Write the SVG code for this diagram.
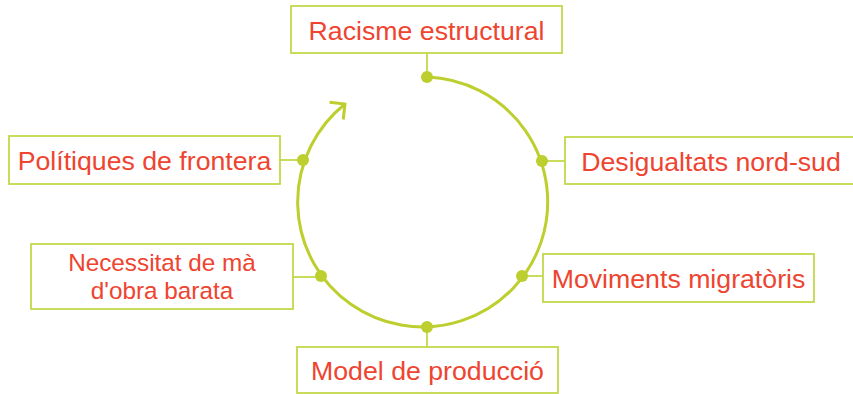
<svg xmlns="http://www.w3.org/2000/svg" width="853" height="394" viewBox="0 0 853 394">
<defs>
<style>
.box{fill:#fff;stroke:#c4d84a;stroke-width:1.8}
.lbl{font-family:"Liberation Sans",Arial,sans-serif;font-size:26.7px;fill:#ee4430;text-anchor:middle}
.lbl2{font-size:24.3px}
.ln{stroke:#c4d84a;stroke-width:1.8;fill:none}
.dot{fill:#bccf2e}
.cyc{stroke:#bccf2e;stroke-width:3;fill:none}
</style>
<marker id="chev" viewBox="-14 -14 16 28" markerWidth="16" markerHeight="28" refX="0" refY="0" orient="auto" markerUnits="userSpaceOnUse">
<path d="M-11,-11 L0,0 L-11,11" fill="none" stroke="#bccf2e" stroke-width="3"/>
</marker>
</defs>
<g id="connectors">
<path class="cyc" d="M427,77 A125,125 0 1 1 345,104" marker-end="url(#chev)"/>
<line class="ln" x1="427" y1="53" x2="427" y2="77"/>
<line class="ln" x1="542" y1="161" x2="565" y2="161"/>
<line class="ln" x1="522" y1="276" x2="543" y2="276"/>
<line class="ln" x1="427" y1="327" x2="427" y2="347"/>
<line class="ln" x1="293" y1="277" x2="321" y2="277"/>
<line class="ln" x1="280" y1="160" x2="303" y2="160"/>
<circle class="dot" cx="427" cy="77" r="6"/>
<circle class="dot" cx="542" cy="161" r="6"/>
<circle class="dot" cx="522" cy="276" r="6"/>
<circle class="dot" cx="427" cy="327" r="6"/>
<circle class="dot" cx="321" cy="276" r="6"/>
<circle class="dot" cx="303" cy="160" r="6"/>
</g>
<g id="racisme">
<rect class="box" x="291" y="6" width="271" height="47"/>
<text class="lbl" x="426.5" y="40">Racisme estructural</text>
</g>
<g id="desigualtats">
<rect class="box" x="565" y="137" width="292" height="47"/>
<text class="lbl" x="711" y="171">Desigualtats nord-sud</text>
</g>
<g id="moviments">
<rect class="box" x="543" y="254" width="271" height="48"/>
<text class="lbl" x="678.5" y="288">Moviments migratòris</text>
</g>
<g id="model">
<rect class="box" x="297" y="347" width="261" height="46"/>
<text class="lbl" x="427.5" y="380">Model de producció</text>
</g>
<g id="necessitat">
<rect class="box" x="31" y="244" width="262" height="65"/>
<text class="lbl lbl2" x="162" y="271">Necessitat de mà</text>
<text class="lbl lbl2" x="162" y="299">d'obra barata</text>
</g>
<g id="politiques">
<rect class="box" x="9" y="136" width="271" height="48"/>
<text class="lbl" x="144.5" y="170">Polítiques de frontera</text>
</g>
</svg>
